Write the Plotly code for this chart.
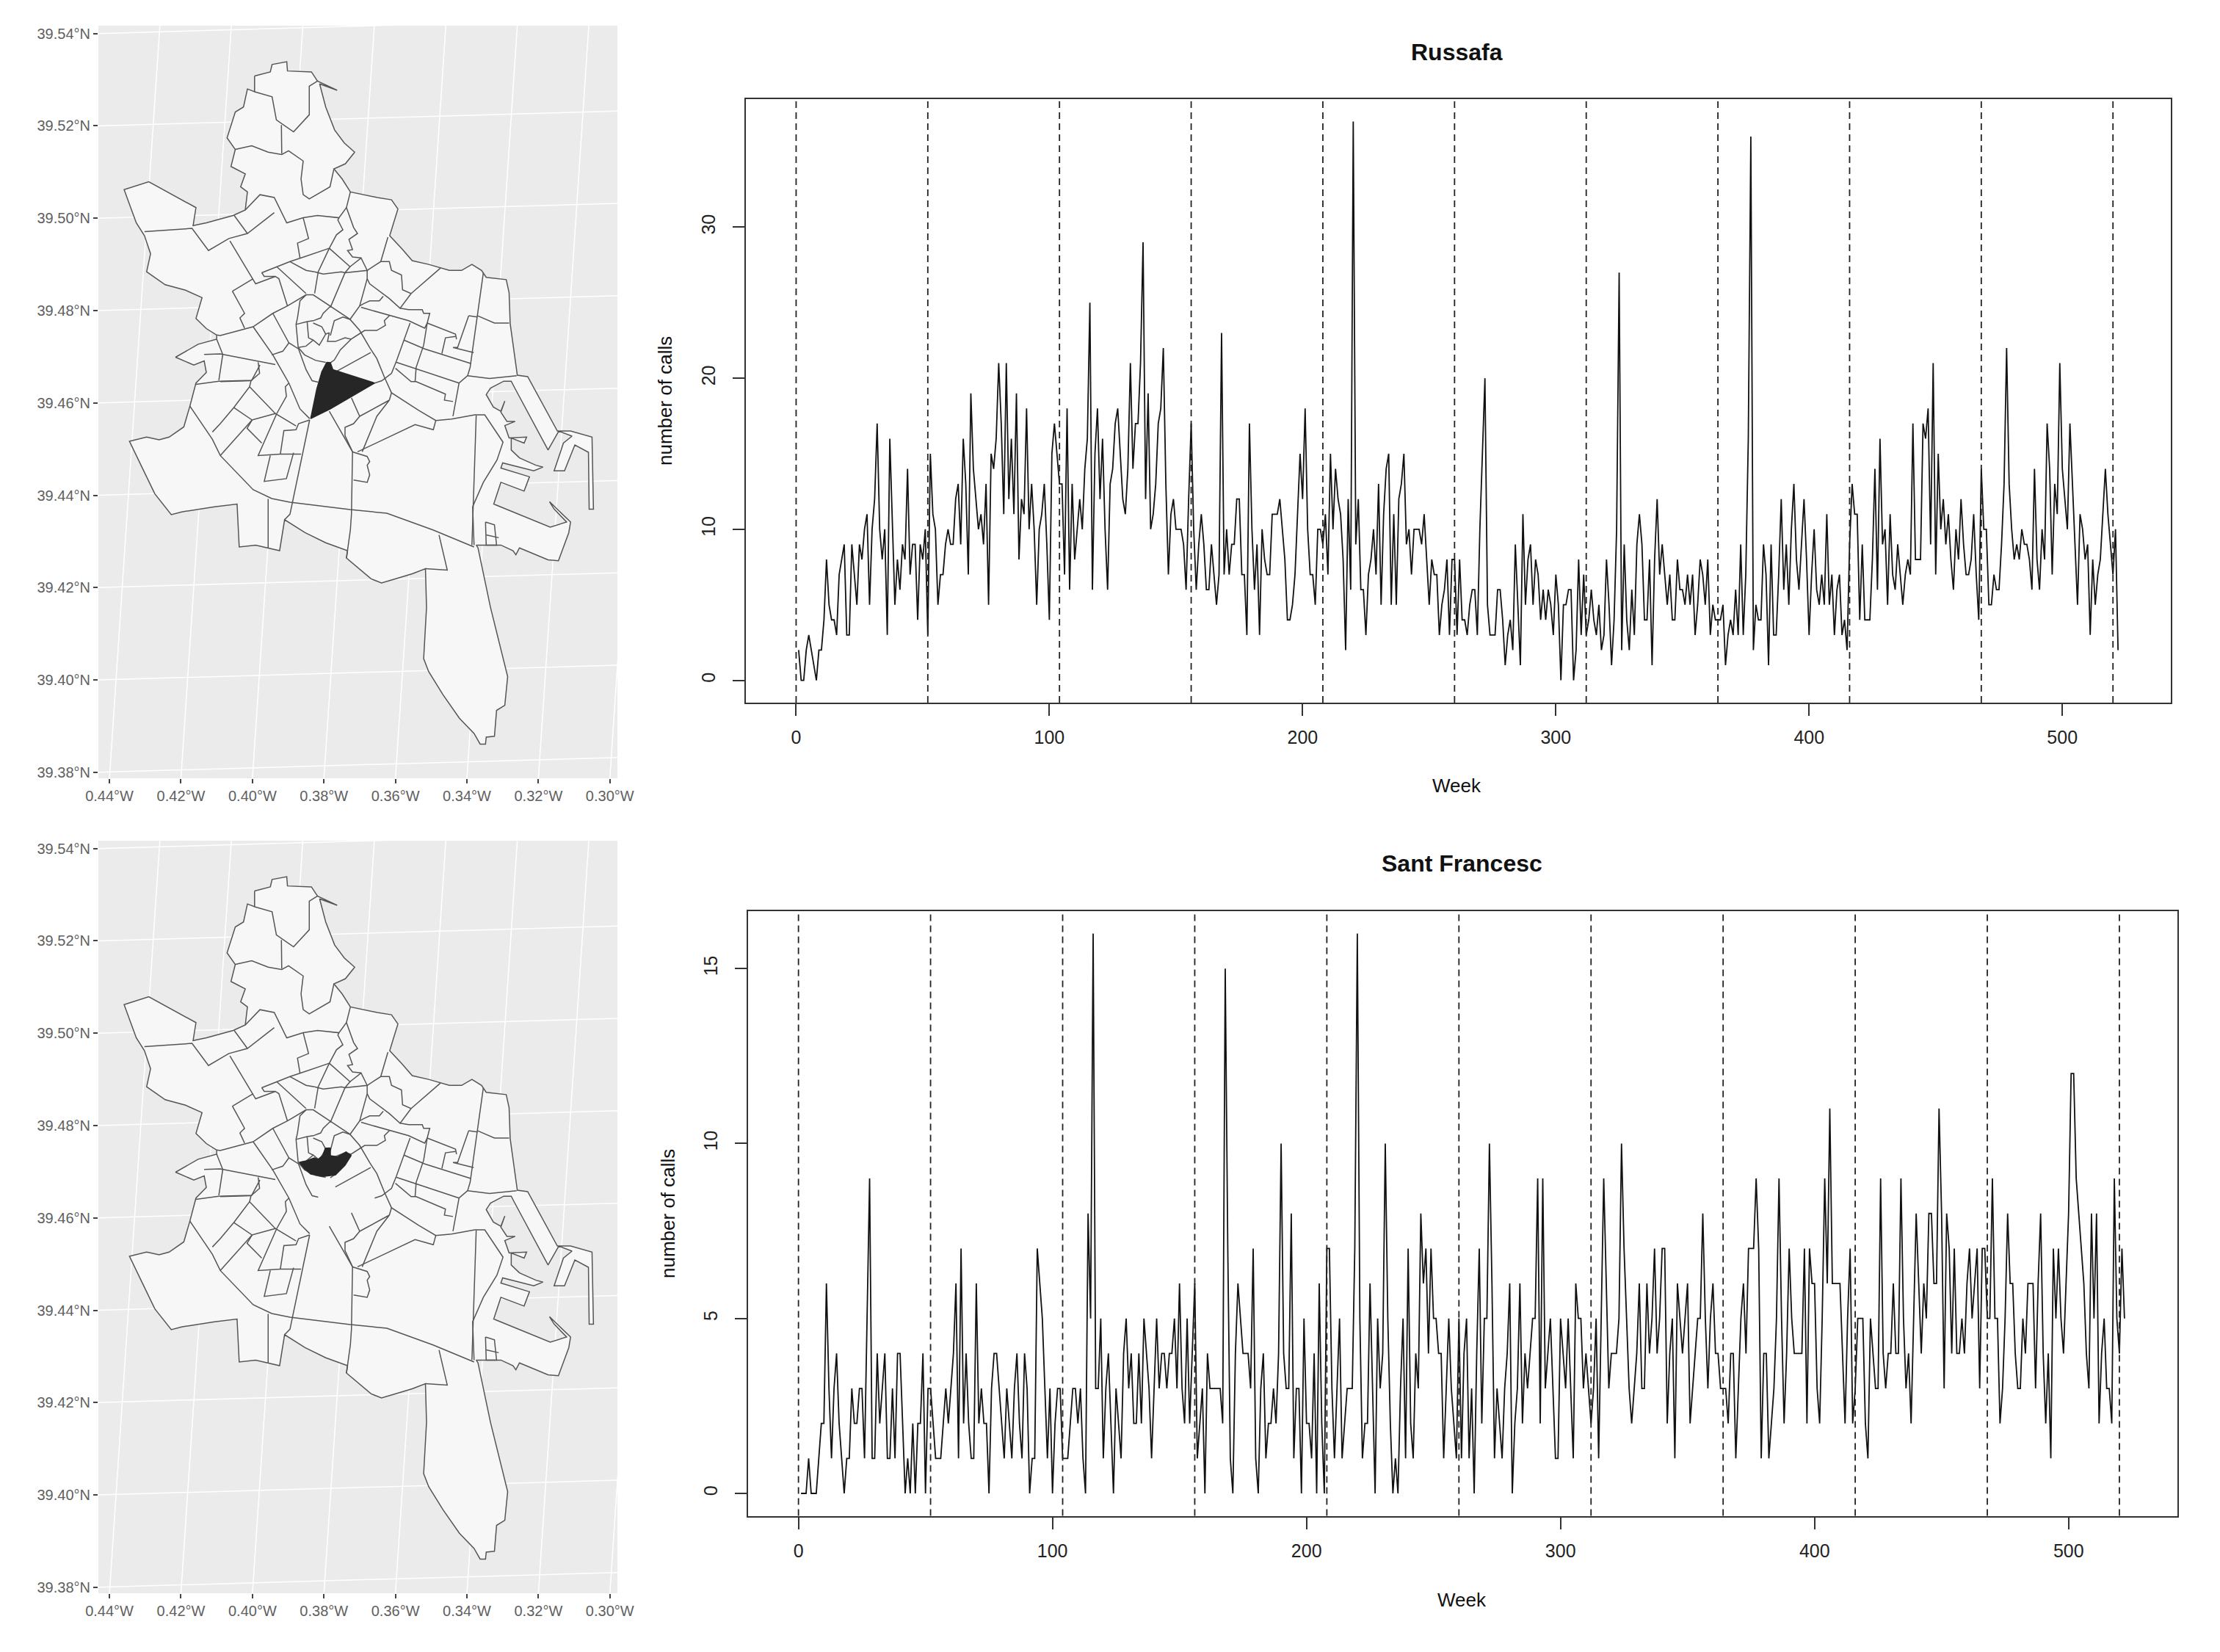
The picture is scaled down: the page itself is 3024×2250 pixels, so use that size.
"""
Valencia neighbourhood maps next to weekly call counts (Russafa, Sant Francesc).
"""
import plotly.graph_objects as go

# browser body margin shifts the whole figure, so the figure is kept that much smaller
PAGE_OFFSET = 8
W, H = 3024 - 2 * PAGE_OFFSET, 2250 - 2 * PAGE_OFFSET
FONT = "Liberation Sans"

weeks_breaks = [0, 52, 104, 156, 208, 260, 312, 364, 416, 468, 520]
time_ticks = [0, 100, 200, 300, 400, 500]

russafa_calls = [
    2,0,0,2,3,2,1,0,2,2,4,8,5,4,4,3,7,8,9,3,3,9,7,5,9,8,10,11,5,10,12,17,10,8,10,3,16,10,5,8,6,9,8,14,7,9,9,4,9,8,10,3,
    15,11,10,5,7,7,9,10,9,9,12,13,9,16,13,7,19,14,12,10,11,9,13,5,15,14,16,21,17,11,21,12,16,11,19,8,12,11,18,10,13,10,5,10,11,13,9,4,15,17,15,13,
    13,7,18,6,13,8,10,12,10,14,16,25,6,15,18,12,16,10,6,13,14,17,18,15,12,11,14,21,14,17,17,21,29,12,19,10,11,13,17,18,22,13,7,11,12,10,10,10,9,6,12,17,
    10,6,9,11,9,6,6,9,7,5,7,23,7,10,7,9,9,12,12,7,7,3,17,10,6,9,3,10,8,7,7,11,11,11,12,10,8,4,4,5,7,11,15,12,18,10,7,7,5,10,10,9,
    11,7,15,10,14,12,11,8,2,12,6,37,9,12,6,6,3,7,8,10,7,13,5,11,14,15,5,11,5,12,13,15,9,10,7,10,10,10,9,11,8,5,8,7,7,3,5,6,8,3,8,8,
    3,8,4,4,3,5,6,6,3,10,15,20,5,3,3,3,6,6,4,1,3,4,2,9,5,1,11,5,8,9,5,8,7,4,6,4,6,5,3,7,5,0,5,5,6,6,0,2,8,3,7,3,
    4,6,4,3,5,2,3,8,5,1,4,10,27,2,9,4,2,6,3,9,11,9,4,4,8,1,8,12,7,9,7,5,7,4,4,8,6,6,5,7,5,7,3,5,8,7,5,8,3,5,4,4,
    4,5,1,3,4,3,6,3,9,3,7,16,36,2,5,4,4,9,7,1,9,3,3,7,12,6,9,5,10,13,8,6,9,12,8,3,7,10,6,5,7,5,11,5,7,3,6,7,3,4,2,9,
    13,11,11,4,9,4,4,4,8,14,6,16,9,10,5,11,7,6,9,7,5,7,8,7,17,8,8,8,17,16,18,9,21,7,15,10,12,9,11,8,6,10,8,12,9,7,7,8,11,7,4,14,
    10,10,5,5,7,6,6,9,13,22,13,10,8,9,8,10,9,9,8,6,14,8,6,10,8,17,14,7,13,11,21,14,12,10,17,13,9,5,11,10,8,9,3,8,5,7,8,11,14,11,9,7,
    10,2,
]

sant_francesc_calls = [
    0,0,0,1,0,0,0,1,2,2,6,3,1,3,4,2,1,0,1,1,3,2,2,3,3,1,5,9,1,1,4,2,3,4,1,1,3,1,4,4,2,0,1,0,2,0,2,2,4,0,3,3,
    2,1,1,1,2,3,2,3,4,6,1,7,2,4,2,1,1,6,2,3,2,2,0,3,4,4,3,2,1,3,2,1,3,4,2,1,4,3,0,1,1,7,6,5,3,1,3,0,2,3,3,1,
    1,1,2,3,3,2,3,1,0,8,5,16,3,3,5,1,3,4,2,0,3,2,1,4,5,3,4,2,2,4,2,5,4,3,1,3,5,3,4,4,3,4,4,5,3,6,3,2,5,2,4,6,
    1,2,3,0,4,3,3,3,3,3,2,15,7,1,0,4,6,5,4,4,4,3,7,1,0,3,4,1,2,2,3,2,4,10,4,3,3,8,1,3,3,0,5,2,2,1,4,0,6,2,0,7,
    7,3,1,3,5,1,2,3,3,3,7,16,5,1,2,2,6,3,0,5,3,4,10,5,2,0,1,0,3,5,1,7,2,1,4,3,8,6,7,4,7,5,5,4,4,1,3,5,3,2,1,5,
    1,4,5,1,3,0,4,7,2,5,5,10,6,1,3,2,1,3,4,6,0,2,3,6,2,4,3,4,5,5,9,2,9,3,4,5,3,1,1,5,4,3,5,3,1,6,5,5,3,4,3,2,
    3,5,1,5,9,6,3,4,4,4,5,10,7,5,3,2,3,4,6,3,3,6,4,5,7,4,5,7,7,2,4,5,1,6,5,4,5,6,2,3,4,5,5,8,5,3,5,6,4,4,3,3,
    3,2,4,4,1,3,5,6,4,7,7,7,9,7,1,4,4,1,2,3,5,9,5,2,4,7,5,4,4,4,4,7,2,7,6,6,3,2,5,9,6,11,6,6,6,6,4,2,5,7,2,3,
    5,5,5,2,1,5,4,3,3,9,4,3,4,4,6,4,4,9,5,3,4,2,5,8,6,4,6,5,8,8,6,6,11,8,3,8,7,4,7,4,4,5,4,6,7,5,6,7,3,7,7,5,
    5,9,5,5,2,3,5,8,6,6,4,3,3,5,4,6,6,6,3,6,8,4,2,4,1,7,5,7,5,4,6,8,12,12,9,8,7,6,4,3,8,5,8,2,4,5,3,3,2,9,5,4,
    7,5,
]

# map ticks
lon_ticks = [-0.44, -0.42, -0.40, -0.38, -0.36, -0.34, -0.32, -0.30]
lat_ticks = [39.38, 39.40, 39.42, 39.44, 39.46, 39.48, 39.50, 39.52, 39.54]
lon_labels = ["0.44°W", "0.42°W", "0.40°W", "0.38°W", "0.36°W", "0.34°W", "0.32°W", "0.30°W"]
lat_labels = ["39.38°N", "39.40°N", "39.42°N", "39.44°N", "39.46°N", "39.48°N", "39.50°N", "39.52°N", "39.54°N"]

# city outline, including the port inlets
city_outline = [
    (-.3994,39.5308),(-.3950,39.5317),(-.3945,39.5333),(-.3904,39.5339),(-.3902,39.5319),(-.3835,39.5317),(-.3818,39.5297),
    (-.3763,39.5277),(-.3812,39.5291),(-.3795,39.5241),(-.3770,39.5191),(-.3743,39.5163),(-.3714,39.5143),(-.3740,39.5118),
    (-.3772,39.5107),(-.3749,39.5085),(-.3726,39.5057),(-.3691,39.5051),(-.3651,39.5045),(-.3611,39.5040),(-.3593,39.5020),
    (-.3605,39.4990),(-.3616,39.4962),(-.3582,39.4934),(-.3553,39.4908),(-.3507,39.4900),(-.3449,39.4887),(-.3415,39.4887),
    (-.3386,39.4900),(-.3359,39.4887),(-.3346,39.4872),(-.3290,39.4867),(-.3282,39.4839),(-.3279,39.4772),(-.3271,39.4727),
    (-.3259,39.4660),(-.3230,39.4657),(-.3147,39.4539),(-.3110,39.4539),(-.3050,39.4526),(-.3046,39.4370),(-.3058,39.4370),
    (-.3060,39.4493),(-.3098,39.4509),(-.3127,39.4453),(-.3156,39.4453),(-.3130,39.4513),(-.3106,39.4528),(-.3143,39.4539),
    (-.3173,39.4498),(-.3268,39.4635),(-.3276,39.4647),(-.3297,39.4647),(-.3334,39.4632),(-.3346,39.4618),(-.3326,39.4591),
    (-.3305,39.4582),(-.3294,39.4604),(-.3305,39.4580),(-.3288,39.4560),(-.3265,39.4560),(-.3294,39.4551),(-.3282,39.4524),
    (-.3233,39.4526),(-.3240,39.4513),(-.3276,39.4524),(-.3276,39.4498),(-.3253,39.4481),(-.3207,39.4465),(-.3187,39.4461),
    (-.3213,39.4453),(-.3300,39.4470),(-.3305,39.4459),(-.3225,39.4440),(-.3240,39.4409),(-.3305,39.4428),(-.3325,39.4381),
    (-.3167,39.4331),(-.3121,39.4342),(-.3156,39.4370),(-.3169,39.4386),(-.3110,39.4342),(-.3115,39.4319),(-.3144,39.4258),
    (-.3173,39.4260),(-.3253,39.4286),(-.3263,39.4271),(-.3271,39.4280),(-.3305,39.4292),(-.3374,39.4292),(-.3369,39.4286),
    (-.3334,39.4157),(-.3286,39.4007),(-.3294,39.3945),(-.3317,39.3934),(-.3323,39.3878),(-.3346,39.3876),(-.3348,39.3861),
    (-.3363,39.3861),(-.3380,39.3884),(-.3421,39.3917),(-.3467,39.3968),(-.3507,39.4018),(-.3521,39.4046),(-.3513,39.4157),
    (-.3516,39.4241),(-.3553,39.4230),(-.3599,39.4219),(-.3639,39.4210),(-.3668,39.4219),(-.3714,39.4249),(-.3737,39.4264),
    (-.3734,39.4280),(-.3795,39.4297),(-.3853,39.4319),(-.3910,39.4347),(-.3924,39.4280),(-.3956,39.4286),(-.3991,39.4292),
    (-.4037,39.4288),(-.4043,39.4381),(-.4106,39.4375),(-.4198,39.4364),(-.4227,39.4358),(-.4273,39.4403),(-.4308,39.4459),
    (-.4344,39.4517),(-.4296,39.4526),(-.4261,39.4520),(-.4233,39.4526),(-.4192,39.4548),(-.4175,39.4593),(-.4158,39.4643),
    (-.4129,39.4666),(-.4135,39.4691),(-.4164,39.4682),(-.4215,39.4699),(-.4152,39.4727),(-.4100,39.4738),(-.4100,39.4747),
    (-.4129,39.4761),(-.4158,39.4783),(-.4141,39.4828),(-.4187,39.4844),(-.4244,39.4856),(-.4296,39.4884),(-.4285,39.4923),
    (-.4302,39.4962),(-.4325,39.4990),(-.4359,39.5062),(-.4290,39.5079),(-.4158,39.5023),(-.4166,39.4984),(-.4129,39.4990),
    (-.4077,39.5001),(-.4054,39.5006),(-.4020,39.5018),(-.4014,39.5057),(-.4033,39.5068),(-.4020,39.5096),(-.4060,39.5112),
    (-.4048,39.5149),(-.4071,39.5174),(-.4048,39.5230),(-.4025,39.5241),(-.4014,39.5280),(-.3994,39.5274),(-.3994,39.5308),
]

# borders between neighbourhoods
district_borders = [
    [(-.3994,39.5274),(-.3945,39.5263),(-.3933,39.5213),(-.3885,39.5187),(-.3841,39.5224),(-.3841,39.5286),(-.3818,39.5297)],
    [(-.3919,39.5202),(-.3918,39.5140)],
    [(-.4048,39.5149),(-.4002,39.5157),(-.3956,39.5143),(-.3918,39.5138),(-.3899,39.5146),(-.3858,39.5124),(-.3864,39.5085),
     (-.3858,39.5051),(-.3841,39.5042),(-.3783,39.5068),(-.3772,39.5107)],
    [(-.3726,39.5057),(-.3737,39.5023),(-.3758,39.5001),(-.3818,39.5006),(-.3858,39.5001),(-.3904,39.4990),(-.3939,39.5045),
     (-.3979,39.5051),(-.4020,39.5018)],
    [(-.3939,39.5012),(-.4014,39.4967),(-.4066,39.4956),(-.4123,39.4930),(-.4169,39.4978),(-.4302,39.4971)],
    [(-.4051,39.5006),(-.4014,39.4967)],
    [(-.3858,39.5001),(-.3843,39.4956),(-.3874,39.4946),(-.3867,39.4914)],
    [(-.3758,39.5001),(-.3761,39.4996),(-.3747,39.4975),(-.3765,39.4964),(-.3785,39.4935)],
    [(-.3737,39.5023),(-.3717,39.4980),(-.3706,39.4967),(-.3730,39.4954),(-.3720,39.4932),(-.3734,39.4930),(-.3720,39.4916),(-.3696,39.4914)],
    [(-.4100,39.4747),(-.4090,39.4746),(-.3998,39.4765),(-.3943,39.4794),(-.3902,39.4810),(-.3850,39.4834),(-.3830,39.4834),
     (-.3782,39.4809),(-.3727,39.4781),(-.3700,39.4757),(-.3672,39.4720),(-.3652,39.4696),(-.3631,39.4656),(-.3611,39.4622),
     (-.3535,39.4584),(-.3487,39.4562),(-.3443,39.4565),(-.3378,39.4574),(-.3350,39.4574),(-.3299,39.4515),(-.3316,39.4476),
     (-.3354,39.4428),(-.3384,39.4375),(-.3380,39.4292)],
    [(-.3850,39.4834),(-.3867,39.4821),(-.3874,39.4784),(-.3878,39.4770),(-.3872,39.4720),(-.3854,39.4704),(-.3823,39.4692),(-.3795,39.4688)],
    [(-.3878,39.4770),(-.3847,39.4776),(-.3830,39.4778),(-.3809,39.4784),(-.3802,39.4794),(-.3782,39.4809)],
    [(-.3847,39.4776),(-.3843,39.4741),(-.3830,39.4736),(-.3813,39.4725),(-.3795,39.4749),(-.3806,39.4765),(-.3830,39.4773)],
    [(-.3795,39.4749),(-.3785,39.4752),(-.3790,39.4733),(-.3768,39.4733),(-.3741,39.4741),(-.3724,39.4738),(-.3686,39.4757),
     (-.3652,39.4757),(-.3628,39.4768),(-.3631,39.4778),(-.3617,39.4789)],
    [(-.3872,39.4720),(-.3850,39.4723),(-.3830,39.4736)],
    [(-.3727,39.4781),(-.3747,39.4786),(-.3771,39.4778),(-.3782,39.4746)],
    [(-.3724,39.4738),(-.3754,39.4715),(-.3771,39.4693),(-.3782,39.4687)],
    [(-.3768,39.4667),(-.3669,39.4709)],
    [(-.3658,39.4643),(-.3638,39.4648),(-.3611,39.4664),(-.3597,39.4691),(-.3559,39.4773)],
    [(-.3696,39.4807),(-.3563,39.4778),(-.3518,39.4762),(-.3511,39.4773),(-.3432,39.4749),(-.3429,39.4738)],
    [(-.3700,39.4810),(-.3689,39.4815),(-.3672,39.4821),(-.3645,39.4821),(-.3634,39.4831)],
    [(-.3785,39.4935),(-.3816,39.4884),(-.3826,39.4837)],
    [(-.3785,39.4935),(-.3727,39.4895),(-.3741,39.4882),(-.3782,39.4807)],
    [(-.3727,39.4895),(-.3696,39.4914),(-.3679,39.4887),(-.3741,39.4882)],
    [(-.3826,39.4884),(-.3802,39.4879),(-.3751,39.4884),(-.3741,39.4882)],
    [(-.3679,39.4887),(-.3679,39.4869),(-.3700,39.4810),(-.3727,39.4781)],
    [(-.3679,39.4887),(-.3641,39.4906),(-.3617,39.4906),(-.3611,39.4887),(-.3583,39.4877),(-.3580,39.4845),(-.3556,39.4837),
     (-.3587,39.4805),(-.3617,39.4826),(-.3672,39.4858),(-.3679,39.4869)],
    [(-.3641,39.4906),(-.3621,39.4959)],
    [(-.3556,39.4837),(-.3474,39.4892)],
    [(-.3587,39.4805),(-.3563,39.4802),(-.3525,39.4802),(-.3521,39.4794),(-.3504,39.4794),(-.3511,39.4773),(-.3521,39.4725),(-.3542,39.4677),(-.3545,39.4646)],
    [(-.3354,39.4882),(-.3371,39.4789),(-.3391,39.4677),(-.3398,39.4659),(-.3422,39.4643),(-.3439,39.4571)],
    [(-.3371,39.4789),(-.3323,39.4773),(-.3282,39.4773)],
    [(-.3395,39.4789),(-.3371,39.4786)],
    [(-.3395,39.4789),(-.3426,39.4720),(-.3439,39.4720),(-.3381,39.4709)],
    [(-.3398,39.4659),(-.3337,39.4653),(-.3261,39.4659)],
    [(-.3576,39.4736),(-.3518,39.4717),(-.3388,39.4685)],
    [(-.3597,39.4688),(-.3422,39.4643)],
    [(-.3600,39.4675),(-.3556,39.4646),(-.3542,39.4646),(-.3460,39.4619),(-.3463,39.4606),(-.3439,39.4603)],
    [(-.3470,39.4707),(-.3460,39.4741),(-.3432,39.4744)],
    [(-.3998,39.4765),(-.3943,39.4704),(-.3898,39.4643),(-.3867,39.4587),(-.3840,39.4566)],
    [(-.3943,39.4794),(-.3898,39.4730),(-.3871,39.4717),(-.3850,39.4672),(-.3833,39.4648),(-.3816,39.4645)],
    [(-.3898,39.4730),(-.3915,39.4712),(-.3946,39.4704)],
    [(-.3902,39.4810),(-.3926,39.4869),(-.3936,39.4874),(-.3967,39.4874),(-.3974,39.4882)],
    [(-.3974,39.4882),(-.3895,39.4906),(-.3864,39.4914),(-.3785,39.4935)],
    [(-.3895,39.4906),(-.3850,39.4887),(-.3826,39.4884)],
    [(-.3932,39.4895),(-.3850,39.4837)],
    [(-.4063,39.4951),(-.3998,39.4869),(-.3991,39.4858),(-.3936,39.4874)],
    [(-.4056,39.4842),(-.3998,39.4869)],
    [(-.4056,39.4842),(-.4022,39.4794),(-.4035,39.4784),(-.4022,39.4762)],
    [(-.4135,39.4705),(-.4090,39.4706),(-.3936,39.4683)],
    [(-.4090,39.4646),(-.4004,39.4648),(-.3980,39.4664),(-.3984,39.4688)],
    [(-.4004,39.4648),(-.4008,39.4635),(-.4052,39.4590),(-.4090,39.4555),(-.4112,39.4537)],
    [(-.4008,39.4635),(-.3936,39.4577),(-.3878,39.4550)],
    [(-.4052,39.4590),(-.4001,39.4563),(-.3936,39.4577)],
    [(-.4001,39.4563),(-.4015,39.4545),(-.3974,39.4513)],
    [(-.4090,39.4486),(-.4008,39.4558),(-.4001,39.4563)],
    [(-.3898,39.4643),(-.3908,39.4635),(-.3905,39.4614),(-.3932,39.4577),(-.3984,39.4486),(-.3922,39.4489),(-.3864,39.4489)],
    [(-.3840,39.4563),(-.3871,39.4555),(-.3878,39.4542),(-.3912,39.4540),(-.3922,39.4489)],
    [(-.3950,39.4486),(-.3967,39.4430),(-.3905,39.4436),(-.3885,39.4492)],
    [(-.4175,39.4593),(-.4112,39.4521),(-.4090,39.4486),(-.3998,39.4412),(-.3946,39.4393),(-.3895,39.4385),(-.3727,39.4369),
     (-.3624,39.4361),(-.3495,39.4325),(-.3380,39.4288)],
    [(-.3840,39.4563),(-.3895,39.4359),(-.3910,39.4347)],
    [(-.3785,39.4582),(-.3720,39.4494),(-.3723,39.4359),(-.3726,39.4325),(-.3737,39.4264)],
    [(-.3723,39.4611),(-.3700,39.4571)],
    [(-.3700,39.4571),(-.3617,39.4606),(-.3652,39.4571),(-.3693,39.4494)],
    [(-.3611,39.4622),(-.3617,39.4606)],
    [(-.3700,39.4571),(-.3717,39.4555),(-.3741,39.4547),(-.3741,39.4529),(-.3720,39.4494)],
    [(-.3720,39.4494),(-.3679,39.4484),(-.3672,39.4473),(-.3679,39.4465),(-.3672,39.4444),(-.3679,39.4428),(-.3717,39.4433)],
    [(-.3706,39.4494),(-.3545,39.4553),(-.3494,39.4542),(-.3487,39.4562)],
    [(-.3374,39.4573),(-.3386,39.4292)],
    [(-.3478,39.4314),(-.3455,39.4238),(-.3516,39.4241)],
    [(-.3956,39.4286),(-.3956,39.4392)],
    [(-.4100,39.4738),(-.4083,39.4705),(-.4094,39.4649)],
    [(-.4158,39.4640),(-.4094,39.4647),(-.4002,39.4649),(-.3979,39.4682)],
    [(-.3348,39.4342),(-.3323,39.4336),(-.3317,39.4292),(-.3346,39.4292),(-.3348,39.4342)],
    [(-.3346,39.4314),(-.3311,39.4308)],
]

russafa_shape = [
    (-.3792,39.4688),(-.3782,39.4687),(-.3775,39.4672),(-.3658,39.4643),(-.3782,39.4587),(-.3837,39.4566),(-.3820,39.4630),(-.3806,39.4667),
]
sant_francesc_shape = [
    (-.3868,39.4720),(-.3847,39.4724),(-.3827,39.4730),(-.3816,39.4727),(-.3803,39.4735),(-.3796,39.4751),(-.3782,39.4751),
    (-.3782,39.4735),(-.3762,39.4732),(-.3748,39.4738),(-.3738,39.4743),(-.3724,39.4735),(-.3741,39.4714),(-.3768,39.4693),
    (-.3803,39.4690),(-.3837,39.4695),(-.3854,39.4706),
]

# graticule lean across the panel, in degrees
MERIDIAN_LEAN = 0.0141
PARALLEL_LEAN = 0.0032
MAP_X_RANGE = [-0.4431, -0.2979]
MAP_Y_RANGE = [39.3787, 39.5417]


def dom_x(left, right):
    return [(left - PAGE_OFFSET) / W, (right - PAGE_OFFSET) / W]


def dom_y(top, bottom):
    return [1 - (bottom - PAGE_OFFSET) / H, 1 - (top - PAGE_OFFSET) / H]


def split_xy(points):
    return [p[0] for p in points], [p[1] for p in points]


def add_map(fig, xa, ya, highlight):
    # white graticule under the city
    for lon in lon_ticks:
        fig.add_trace(go.Scatter(
            x=[lon, lon + MERIDIAN_LEAN], y=[MAP_Y_RANGE[0], MAP_Y_RANGE[1]], mode="lines",
            line=dict(color="white", width=1.5), xaxis=xa, yaxis=ya, showlegend=False, hoverinfo="skip"))
    for lat in lat_ticks:
        fig.add_trace(go.Scatter(
            x=[MAP_X_RANGE[0], MAP_X_RANGE[1]], y=[lat, lat + PARALLEL_LEAN], mode="lines",
            line=dict(color="white", width=1.5), xaxis=xa, yaxis=ya, showlegend=False, hoverinfo="skip"))

    lons, lats = split_xy(city_outline)
    fig.add_trace(go.Scatter(
        x=lons, y=lats, mode="lines", fill="toself", fillcolor="#F7F7F7",
        line=dict(color="#555555", width=1.5), xaxis=xa, yaxis=ya, showlegend=False, hoverinfo="skip"))

    xs, ys = [], []
    for border in district_borders:
        bx, by = split_xy(border)
        xs += bx + [None]
        ys += by + [None]
    fig.add_trace(go.Scatter(
        x=xs, y=ys, mode="lines", line=dict(color="#555555", width=1.5),
        xaxis=xa, yaxis=ya, showlegend=False, hoverinfo="skip"))

    lons, lats = split_xy(highlight)
    fig.add_trace(go.Scatter(
        x=lons + lons[:1], y=lats + lats[:1], mode="lines", fill="toself", fillcolor="#262626",
        line=dict(color="#262626", width=1.5), xaxis=xa, yaxis=ya, showlegend=False, hoverinfo="skip"))


def add_calls(fig, xa, ya, calls):
    fig.add_trace(go.Scatter(
        x=list(range(1, len(calls) + 1)), y=calls, mode="lines",
        line=dict(color="#111111", width=1.8), xaxis=xa, yaxis=ya, showlegend=False))
    for w in weeks_breaks:
        fig.add_shape(type="line", x0=w, x1=w, y0=0, y1=1, xref=xa, yref=ya + " domain",
                      line=dict(color="#222222", width=1.8, dash="9px,6px"))


def map_axes(domain_x, domain_y, anchor_x, anchor_y):
    tick_font = dict(family=FONT, size=20, color="#5f5f5f")
    xaxis = dict(domain=domain_x, anchor=anchor_y, range=MAP_X_RANGE, tickvals=lon_ticks, ticktext=lon_labels,
                 ticks="outside", ticklen=6, tickcolor="#444444", tickwidth=1.5, tickfont=tick_font,
                 showgrid=False, zeroline=False, showline=False, tickangle=0)
    yaxis = dict(domain=domain_y, anchor=anchor_x, range=MAP_Y_RANGE, tickvals=lat_ticks, ticktext=lat_labels,
                 ticks="outside", ticklen=6, tickcolor="#444444", tickwidth=1.5, tickfont=tick_font,
                 showgrid=False, zeroline=False, showline=False)
    return xaxis, yaxis


def calls_axes(domain_x, domain_y, anchor_x, anchor_y, y_range, y_ticks):
    tick_font = dict(family=FONT, size=25, color="#222222")
    xaxis = dict(domain=domain_x, anchor=anchor_y, range=[-19.84, 542.84], tickvals=time_ticks,
                 ticks="outside", ticklen=16, tickcolor="#333333", tickwidth=1.8, tickfont=tick_font, ticklabelstandoff=8,
                 showgrid=False, zeroline=False, showline=True, linecolor="#333333", linewidth=2, mirror=True)
    yaxis = dict(domain=domain_y, anchor=anchor_x, range=y_range, tickvals=y_ticks, tickangle=-90,
                 ticks="outside", ticklen=16, tickcolor="#333333", tickwidth=1.8, tickfont=tick_font, ticklabelstandoff=14,
                 showgrid=False, zeroline=False, showline=True, linecolor="#333333", linewidth=2, mirror=True)
    return xaxis, yaxis


def text_at(x, y, text, size=25, bold=False, angle=0):
    return dict(
        x=(x - PAGE_OFFSET) / W, y=1 - (y - PAGE_OFFSET) / H, xref="paper", yref="paper", showarrow=False,
        xanchor="center", yanchor="middle", textangle=angle,
        text="<b>%s</b>" % text if bold else text, font=dict(family=FONT, size=size, color="#111111"))


fig = go.Figure()
add_map(fig, "x", "y", russafa_shape)
add_calls(fig, "x2", "y2", russafa_calls)
add_map(fig, "x3", "y3", sant_francesc_shape)
add_calls(fig, "x4", "y4", sant_francesc_calls)

x1, y1 = map_axes(dom_x(134, 841), dom_y(35, 1060), "x", "y")
x2, y2 = calls_axes(dom_x(1016, 2957), dom_y(135, 957), "x2", "y2", [-1.48, 38.48], [0, 10, 20, 30])
x3, y3 = map_axes(dom_x(134, 841), dom_y(1145, 2170), "x3", "y3")
x4, y4 = calls_axes(dom_x(1019, 2966), dom_y(1241, 2064.5), "x4", "y4", [-0.64, 16.64], [0, 5, 10, 15])

for xa, ya in (("x", "y"), ("x3", "y3")):
    fig.add_shape(type="rect", x0=0, x1=1, y0=0, y1=1, xref=xa + " domain", yref=ya + " domain",
                  fillcolor="#EBEBEB", line=dict(width=0), layer="below")

fig.update_layout(
    width=W, height=H, margin=dict(l=0, r=0, t=0, b=0, pad=0, autoexpand=False),
    paper_bgcolor="white", plot_bgcolor="white", showlegend=False,
    xaxis=x1, yaxis=y1, xaxis2=x2, yaxis2=y2, xaxis3=x3, yaxis3=y3, xaxis4=x4, yaxis4=y4,
    annotations=[
        text_at(1984, 71, "Russafa", size=32, bold=True),
        text_at(1984, 1070, "Week", size=26),
        text_at(906, 546, "number of calls", size=26, angle=-90),
        text_at(1992, 1176, "Sant Francesc", size=32, bold=True),
        text_at(1992, 2179, "Week", size=26),
        text_at(910, 1653, "number of calls", size=26, angle=-90),
    ],
)

assert len(russafa_calls) == 522, len(russafa_calls)
assert len(sant_francesc_calls) == 522, len(sant_francesc_calls)

fig.write_html("out.html")
